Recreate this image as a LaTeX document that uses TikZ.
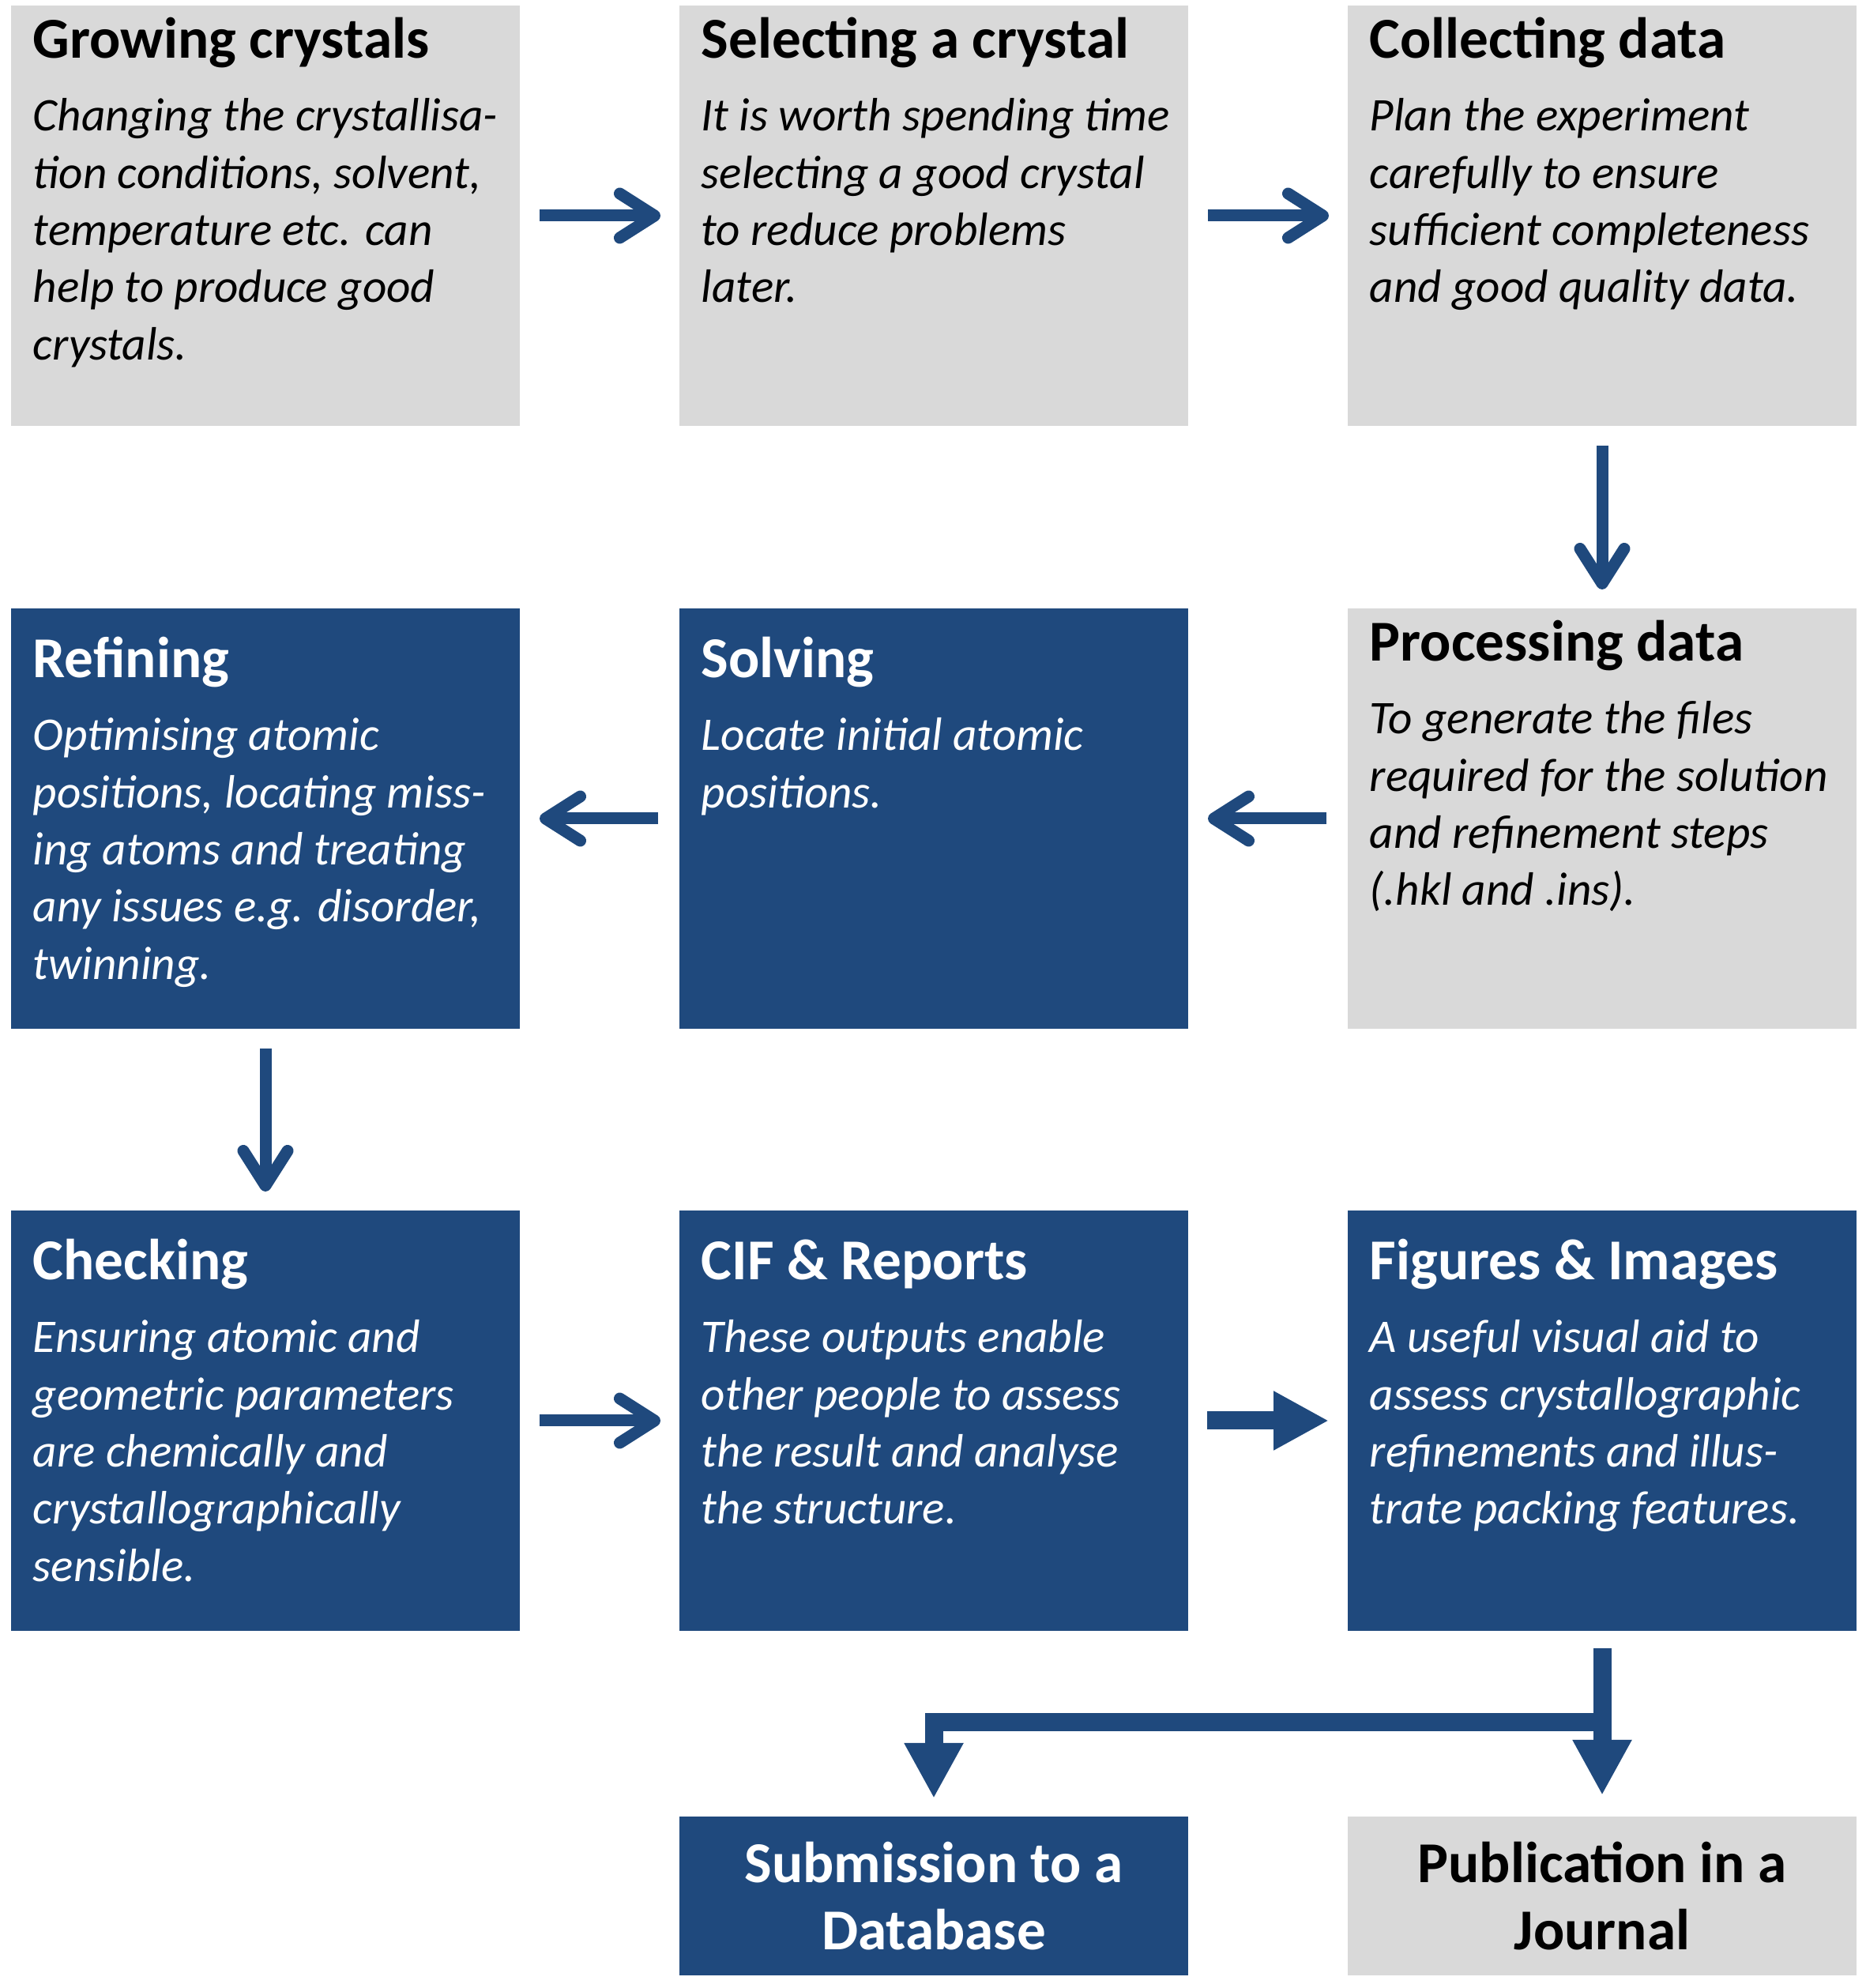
\documentclass[tikz,border=0pt]{standalone}
\usepackage{fontspec}
\setmainfont{Carlito}
\usepackage{tikz}
\usetikzlibrary{arrows.meta, positioning}
\usepackage{xcolor}
\definecolor{darkblue}{RGB}{31,73,125}
\definecolor{lightgrey}{RGB}{217,217,217}
\tikzset{greyboxnode/.style={rectangle, fill=lightgrey, minimum width=161pt, minimum height=133pt, inner sep=0pt, outer sep=0pt},
blueboxnode/.style={rectangle, fill=darkblue, minimum width=161pt, minimum height=133pt, inner sep=0pt, outer sep=0pt}}
\tikzset{titlenode/.style={anchor=base west, inner sep=0pt, font=\bfseries\fontsize{18.3pt}{22.3pt}\selectfont},
bodynode/.style={anchor=north west, inner sep=0pt, align=left, font=\itshape\fontsize{14.8pt}{18.08pt}\selectfont}}
\tikzset{openarrow/.style={darkblue, line width=3.75pt, -{Straight Barb[length=11pt, width=14pt, round]}},
filledarrow/.style={darkblue, line width=5.75pt, -{Triangle[length=17.5pt, width=17.5pt]}}}

\begin{document}
\begin{tikzpicture}
        \useasboundingbox (0pt, 0pt) rectangle (590.5pt, 629pt);
        % First row
        \node[greyboxnode] (grow) at (84pt, 560.75pt) {};
        \node[titlenode] (growtitle) at ([xshift=6.75pt, yshift=-16.75pt]grow.north west) {Growing crystals};
        \node[bodynode] (growtext) at ([xshift=6.75pt, yshift=-26.85pt]grow.north west) {\strut Changing the crystallisa-\\tion conditions, solvent,\\temperature etc. can\\help to produce good\\crystals.};
        \node[greyboxnode] (select) at (295.5pt, 560.75pt) {};
        \node[titlenode] (selecttitle) at ([xshift=6.75pt, yshift=-16.75pt]select.north west) {Selecting a crystal};
        \node[bodynode] (selecttext) at ([xshift=6.75pt, yshift=-26.85pt]select.north west) {\strut It is worth spending time\\selecting a good crystal\\to reduce problems\\later.};
        \node[greyboxnode] (collect) at (507pt, 560.75pt) {};
        \node[titlenode] (collecttitle) at ([xshift=6.75pt, yshift=-16.75pt]collect.north west) {Collecting data};
        \node[bodynode] (collecttext) at ([xshift=6.75pt, yshift=-26.85pt]collect.north west) {\strut Plan the experiment\\carefully to ensure\\sufficient completeness\\and good quality data.};
        % Second row
        \node[blueboxnode] (refine) at (84pt, 370pt) {};
        \node[titlenode, text=white] (refinetitle) at ([xshift=6.75pt, yshift=-22pt]refine.north west) {Refining};
        \node[bodynode, text=white] (refinetext) at ([xshift=6.75pt, yshift=-32.1pt]refine.north west) {\strut Optimising atomic\\positions, locating miss-\\ing atoms and treating\\any issues e.g. disorder,\\twinning.};
        \node[blueboxnode] (solve) at (295.5pt, 370pt) {};
        \node[titlenode, text=white] (solvetitle) at ([xshift=6.75pt, yshift=-22pt]solve.north west) {Solving};
        \node[bodynode, text=white] (solvetext) at ([xshift=6.75pt, yshift=-32.1pt]solve.north west) {\strut Locate initial atomic\\positions.};
        \node[greyboxnode] (process) at (507pt, 370pt) {};
        \node[titlenode] (processtitle) at ([xshift=6.75pt, yshift=-16.75pt]process.north west) {Processing data};
        \node[bodynode] (processtext) at ([xshift=6.75pt, yshift=-26.85pt]process.north west) {\strut To generate the files\\required for the solution\\and refinement steps\\(.hkl and .ins).};
        % Third row
        \node[blueboxnode] (check) at (84pt, 179.5pt) {};
        \node[titlenode, text=white] (checktitle) at ([xshift=6.75pt, yshift=-22pt]check.north west) {Checking};
        \node[bodynode, text=white] (checktext) at ([xshift=6.75pt, yshift=-32.1pt]check.north west) {\strut Ensuring atomic and\\geometric parameters\\are chemically and\\crystallographically\\sensible.};
        \node[blueboxnode] (cif) at (295.5pt, 179.5pt) {};
        \node[titlenode, text=white] (ciftitle) at ([xshift=6.75pt, yshift=-22pt]cif.north west) {CIF \& Reports};
        \node[bodynode, text=white] (ciftext) at ([xshift=6.75pt, yshift=-32.1pt]cif.north west) {\strut These outputs enable\\other people to assess\\the result and analyse\\the structure.};
        \node[blueboxnode] (figure) at (507pt, 179.5pt) {};
        \node[titlenode, text=white] (figuretitle) at ([xshift=6.75pt, yshift=-22pt]figure.north west) {Figures \& Images};
        \node[bodynode, text=white] (figuretext) at ([xshift=6.75pt, yshift=-32.1pt]figure.north west) {\strut A useful visual aid to\\assess crystallographic\\refinements and illus-\\trate packing features.};
        % Last row
        \node[blueboxnode, minimum height=50.25pt, align=center, text=white, font=\bfseries\fontsize{18.3pt}{21.4pt}\selectfont] (submit) at (295.5pt, 29.125pt) {Submission to a\\Database};
        \node[greyboxnode, minimum height=50.25pt, align=center, font=\bfseries\fontsize{18.3pt}{21.4pt}\selectfont] (publish) at (507pt, 29.125pt) {Publication in a\\Journal};
        % Arrows
        \draw[openarrow, shorten <=6.25pt, shorten >=6pt] (grow) -- (select);
        \draw[openarrow, shorten <=6.25pt, shorten >=6pt] (select) -- (collect);
        \draw[openarrow, shorten <=6.25pt, shorten >=6pt] (collect) -- (process);
        \draw[openarrow, shorten <=6.75pt, shorten >=6.25pt] (process) -- (solve);
        \draw[openarrow, shorten <=6.75pt, shorten >=6.25pt] (solve) -- (refine);
        \draw[openarrow, shorten <=6.25pt, shorten >=6pt] (refine) -- (check);
        \draw[openarrow, shorten <=6.25pt, shorten >=6pt] (check) -- (cif);
        \draw[filledarrow, shorten <=6pt, shorten >=6pt] (cif) -- (figure);
        \coordinate[below=29pt of figure.south] (split);
        \draw[filledarrow, shorten <=5.5pt, shorten >=6.75pt] (figure) -- (publish);
        \draw[filledarrow, shorten >=5.75pt] (split) -| (submit.north);
\end{tikzpicture}
\end{document}
